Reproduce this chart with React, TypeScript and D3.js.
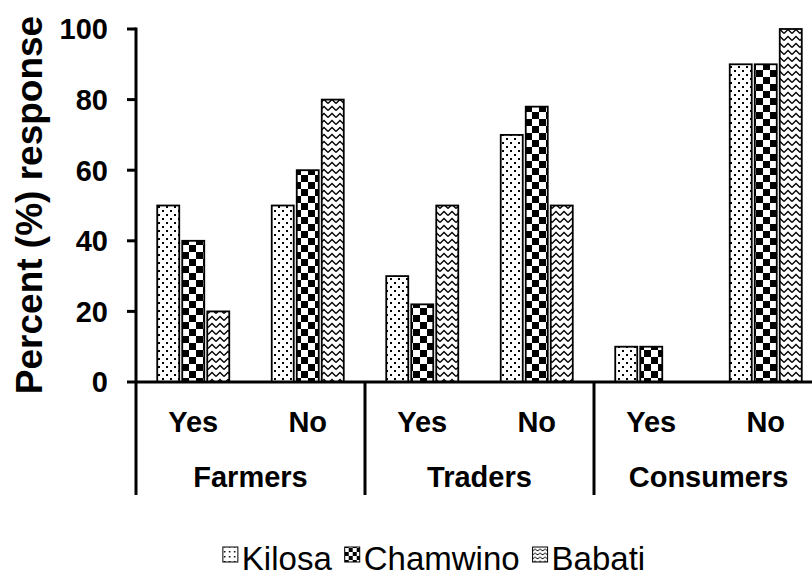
import React from "react";
import * as d3 from "d3";

const groups = ["Farmers", "Traders", "Consumers"];
const answers = ["Yes", "No"];
const series = ["Kilosa", "Chamwino", "Babati"];
// order: Farmers-Yes, Farmers-No, Traders-Yes, Traders-No, Consumers-Yes, Consumers-No
const kilosa = [50, 50, 30, 70, 10, 90];
const chamwino = [40, 60, 22, 78, 10, 90];
const babati = [20, 80, 50, 50, 0, 100];
const yTicks = [0, 20, 40, 60, 80, 100];

const W = 812, H = 580;
const x0 = 136, x1 = 823;
const yTop = 29, yBase = 382, yLow = 495;
const FONT = "Liberation Sans, Arial, sans-serif";

export default function App() {
  const cats = groups.flatMap((g) => answers.map((a) => `${g}-${a}`));
  const x = d3.scaleBand<string>().domain(cats).range([x0, x1]).paddingInner(0.371).paddingOuter(0.1855);
  const step = x.step();
  const xs = d3.scaleBand<string>().domain(series).range([0, x.bandwidth()]).paddingInner(0.12);
  const y = d3.scaleLinear().domain([0, 100]).range([yBase, yTop]);
  const vals = [kilosa, chamwino, babati];
  const pats = ["pDots", "pCheck", "pZig"];

  // legend layout
  const legFs = 33;
  const sq = 15;
  const measure = (s: string) => {
    const w: Record<string, number> = { K: 0.667, i: 0.222, l: 0.222, o: 0.556, s: 0.5, a: 0.556, C: 0.722, h: 0.556, m: 0.833, w: 0.722, n: 0.556, B: 0.667, b: 0.556, t: 0.278 };
    return s.split("").reduce((acc, c) => acc + (w[c] ?? 0.55), 0) * legFs;
  };
  const itemW = series.map((s) => sq + 4 + measure(s));
  const gap = 13;
  const totalW = itemW.reduce((a, b) => a + b, 0) + gap * (series.length - 1);
  const legX0 = 434 - totalW / 2;
  const legPos: number[] = [];
  series.forEach((_, i) => legPos.push(i === 0 ? legX0 : legPos[i - 1] + itemW[i - 1] + gap));

  return (
    <svg width={W} height={H} style={{ position: "absolute", left: 0, top: 0, background: "#fff" }} fontFamily={FONT}>
      <defs>
        <pattern id="pDots" width="8" height="8" patternUnits="userSpaceOnUse">
          <rect width="8" height="8" fill="#fff" />
          <rect x="2" y="2" width="2" height="2" fill="#000" />
          <rect x="6" y="6" width="2" height="2" fill="#000" />
        </pattern>
        <pattern id="pCheck" width="14" height="14" patternUnits="userSpaceOnUse">
          <rect width="14" height="14" fill="#fff" />
          <rect x="0" y="0" width="7" height="7" fill="#000" />
          <rect x="7" y="7" width="7" height="7" fill="#000" />
        </pattern>
        <pattern id="pZig" width="8" height="7" patternUnits="userSpaceOnUse">
          <rect width="8" height="7" fill="#fff" />
          <path d="M0,5.5 L4,1.5 L8,5.5" fill="none" stroke="#000" strokeWidth="1.3" />
        </pattern>
        <pattern id="pCheckL" width="8" height="8" patternUnits="userSpaceOnUse">
          <rect width="8" height="8" fill="#fff" />
          <rect x="0" y="0" width="4" height="4" fill="#000" />
          <rect x="4" y="4" width="4" height="4" fill="#000" />
        </pattern>
        <pattern id="pZigL" width="5" height="4" patternUnits="userSpaceOnUse">
          <rect width="5" height="4" fill="#fff" />
          <path d="M0,3 L2.5,1 L5,3" fill="none" stroke="#000" strokeWidth="1" />
        </pattern>
        <pattern id="pDotsL" width="5" height="5" patternUnits="userSpaceOnUse">
          <rect width="5" height="5" fill="#fff" />
          <rect x="1" y="1" width="1.5" height="1.5" fill="#000" />
        </pattern>
      </defs>

      {/* bars */}
      {cats.map((c, ci) =>
        series.map((s, si) => {
          const v = vals[si][ci];
          if (!v) return null;
          return (
            <rect key={c + s} x={(x(c) ?? 0) + (xs(s) ?? 0)} y={y(v)} width={xs.bandwidth()} height={yBase - y(v)}
              fill={`url(#${pats[si]})`} stroke="#000" strokeWidth={1.8} />
          );
        })
      )}

      {/* y axis */}
      <line x1={x0} x2={x0} y1={yTop - 1.5} y2={yLow} stroke="#000" strokeWidth={3} />
      {yTicks.map((t) => (
        <g key={t}>
          <line x1={x0 - 9} x2={x0} y1={y(t)} y2={y(t)} stroke="#000" strokeWidth={3} />
          <text x={108} y={y(t)} dy="0.36em" textAnchor="end" fontSize={29} fontWeight="bold">{t}</text>
        </g>
      ))}
      <text transform={`translate(42,205) rotate(-90)`} textAnchor="middle" fontSize={37} fontWeight="bold">
        Percent (%) response
      </text>

      {/* x axis */}
      <line x1={x0} x2={W} y1={yBase} y2={yBase} stroke="#000" strokeWidth={3} />
      {[1, 2].map((i) => (
        <line key={i} x1={x0 + step * 2 * i} x2={x0 + step * 2 * i} y1={yBase} y2={yLow} stroke="#000" strokeWidth={3} />
      ))}
      {cats.map((c, ci) => (
        <text key={c} x={(x(c) ?? 0) + x.bandwidth() / 2} y={432} textAnchor="middle" fontSize={29} fontWeight="bold">
          {answers[ci % 2]}
        </text>
      ))}
      {groups.map((g, gi) => (
        <text key={g} x={x0 + step * (2 * gi + 1)} y={487} textAnchor="middle" fontSize={29} fontWeight="bold">{g}</text>
      ))}

      {/* legend */}
      {series.map((s, si) => (
        <g key={s} transform={`translate(${legPos[si]},0)`}>
          <rect x={0} y={547} width={sq} height={sq} fill={`url(#${["pDotsL", "pCheckL", "pZigL"][si]})`} stroke="#000" strokeWidth={1} />
          <text x={sq + 4} y={570} fontSize={legFs}>{s}</text>
        </g>
      ))}
    </svg>
  );
}
